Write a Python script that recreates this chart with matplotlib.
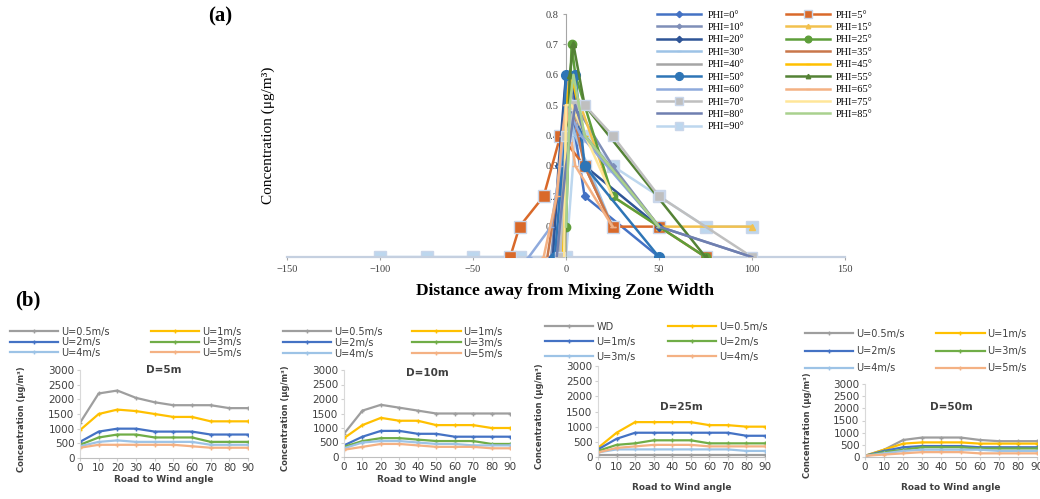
import matplotlib
matplotlib.use("Agg")
from matplotlib import pyplot as plt
import numpy as np

# ---- panel (a) data: distance (m) vs concentration (ug/m3) per road angle PHI
phi_angles = [0, 5, 10, 15, 20, 25, 30, 35, 40, 45, 50, 55, 60, 65, 70, 75, 80, 85, 90]
phi_dist = [
    [-5, 0, 10, 50],
    [-30, -25, -12, -3, 10, 25, 50, 75],
    [-8, -3, 0, 5, 25, 50, 100],
    [-3, 0, 2, 25, 50, 100],
    [-7, -4, 0, 3, 10, 50],
    [0, 3, 5, 25, 75],
    [-5, -2, 0, 5, 25],
    [-10, -5, 0, 3, 10, 25],
    [-4, 0, 2, 10, 50],
    [-2, 0, 3, 10, 50],
    [-6, -2, 0, 5, 10, 50],
    [-1, 2, 4, 10, 75],
    [-20, -8, -3, 0, 8, 50],
    [-12, -5, -2, 0, 5, 25],
    [-3, 0, 5, 10, 25, 50, 100],
    [-1, 0, 3, 25],
    [-5, 0, 5, 10, 50, 100],
    [0, 2, 4, 10, 50],
    [-100, -75, -50, -25, -5, 0, 5, 10, 25, 50, 75, 100],
]
phi_conc = [
    [0, 0.6, 0.2, 0],
    [0, 0.1, 0.2, 0.4, 0.3, 0.1, 0.1, 0],
    [0, 0.3, 0.6, 0.5, 0.3, 0.1, 0],
    [0, 0.5, 0.6, 0.2, 0.1, 0.1],
    [0, 0.3, 0.6, 0.6, 0.3, 0.1],
    [0.1, 0.7, 0.6, 0.2, 0],
    [0, 0.3, 0.5, 0.4, 0.1],
    [0, 0.2, 0.5, 0.5, 0.3, 0.1],
    [0, 0.4, 0.5, 0.4, 0.1],
    [0, 0.5, 0.6, 0.4, 0.1],
    [0, 0.3, 0.6, 0.6, 0.3, 0],
    [0, 0.6, 0.7, 0.5, 0],
    [0, 0.1, 0.3, 0.5, 0.4, 0.1],
    [0, 0.2, 0.4, 0.5, 0.3, 0.1],
    [0, 0.4, 0.5, 0.5, 0.4, 0.2, 0],
    [0, 0.5, 0.5, 0.2],
    [0, 0.3, 0.5, 0.4, 0.1, 0],
    [0.1, 0.5, 0.6, 0.4, 0.1],
    [0, 0, 0, 0, 0, 0, 0.4, 0.4, 0.3, 0.2, 0.1, 0.1],
]

# ---- panel (b) data: road-to-wind angle vs concentration
angles = [0, 10, 20, 30, 40, 50, 60, 70, 80, 90]
labels_u = ['U=0.5m/s', 'U=1m/s', 'U=2m/s', 'U=3m/s', 'U=4m/s', 'U=5m/s']
labels_25 = ['WD', 'U=0.5m/s', 'U=1m/s', 'U=2m/s', 'U=3m/s', 'U=4m/s']
d5 = [
    [1200, 2200, 2300, 2050, 1900, 1800, 1800, 1800, 1700, 1700],
    [950, 1500, 1650, 1600, 1500, 1400, 1400, 1250, 1250, 1250],
    [550, 900, 1000, 1000, 900, 900, 900, 800, 800, 800],
    [450, 700, 800, 800, 700, 700, 700, 550, 550, 550],
    [400, 550, 600, 550, 550, 550, 550, 450, 450, 450],
    [350, 450, 450, 450, 450, 450, 400, 350, 350, 350],
]
d10 = [
    [800, 1600, 1800, 1700, 1600, 1500, 1500, 1500, 1500, 1500],
    [650, 1100, 1350, 1250, 1250, 1100, 1100, 1100, 1000, 1000],
    [400, 700, 900, 900, 800, 800, 700, 700, 700, 700],
    [350, 550, 650, 650, 600, 550, 550, 550, 450, 450],
    [300, 500, 550, 550, 500, 450, 450, 400, 400, 400],
    [250, 350, 450, 450, 400, 350, 350, 350, 300, 300],
]
d25 = [
    [50, 50, 50, 50, 50, 50, 50, 50, 50, 50],
    [300, 800, 1150, 1150, 1150, 1150, 1050, 1050, 1000, 1000],
    [250, 600, 800, 800, 800, 800, 800, 800, 700, 700],
    [200, 400, 450, 550, 550, 550, 450, 450, 450, 450],
    [150, 250, 250, 250, 250, 250, 250, 250, 200, 200],
    [150, 300, 350, 400, 400, 400, 350, 350, 350, 350],
]
d50 = [
    [50, 300, 700, 800, 800, 800, 700, 650, 650, 650],
    [50, 300, 550, 600, 600, 600, 550, 550, 550, 550],
    [50, 250, 400, 450, 450, 450, 400, 400, 400, 400],
    [50, 200, 300, 400, 400, 400, 350, 350, 350, 350],
    [50, 150, 250, 300, 300, 300, 300, 250, 250, 250],
    [50, 100, 150, 200, 200, 200, 150, 150, 150, 150],
]

phi_colors = ['#4472C4', '#D9692A', '#7F8FB8', '#F2C14E', '#2F5597', '#5E9E3A',
              '#9DC3E6', '#C9774A', '#A5A5A5', '#FFC000', '#2E75B6', '#548235',
              '#8FAADC', '#F4B183', '#BFBFBF', '#FFE699', '#6F7FB0', '#A9D18E',
              '#BDD7EE']
phi_markers = ['D', 's', 'D', '^', 'D', 'o', '_', None, None, '_', 'o', '^',
               '_', '_', 's', None, None, None, 's']
phi_msize = [4, 8, 3, 4, 4, 6, 4, 0, 0, 4, 7, 4, 4, 4, 7, 0, 0, 0, 8]
u_colors = ['#9E9E9E', '#FFC000', '#4472C4', '#70AD47', '#9DC3E6', '#F4B183']

fig = plt.figure(figsize=(10.4, 4.99), dpi=100)

# ---------------- panel (a)
serif = 'Liberation Serif'
axa = fig.add_axes([287 / 1040, 1 - 257 / 499, 558 / 1040, 243 / 499])
handles = []
for i, ang in enumerate(phi_angles):
    m = phi_markers[i]
    line, = axa.plot(phi_dist[i], phi_conc[i], color=phi_colors[i], lw=1.8,
                     marker=m, markersize=phi_msize[i],
                     markerfacecolor=phi_colors[i],
                     markeredgecolor='#C9D6EA' if m == 's' else phi_colors[i],
                     label='PHI=%d°' % ang, zorder=3 if ang != 90 else 2)
    handles.append(line)
axa.set_xlim(-150, 150)
axa.set_ylim(0, 0.8)
axa.spines['left'].set_position(('data', 0))
axa.spines['bottom'].set_position(('data', 0))
axa.spines['top'].set_visible(False)
axa.spines['right'].set_visible(False)
axa.spines['left'].set_color('#A6A6A6')
axa.spines['bottom'].set_color('#C5D0E0')
axa.spines['bottom'].set_linewidth(1.6)
axa.set_yticks([0.1, 0.2, 0.3, 0.4, 0.5, 0.6, 0.7, 0.8])
axa.set_xticks([-150, -100, -50, 0, 50, 100, 150])
axa.tick_params(axis='both', length=2, color='#A6A6A6', labelsize=7.5,
                labelcolor='#404040')
for t in axa.get_xticklabels() + axa.get_yticklabels():
    t.set_fontfamily(serif)
axa.set_facecolor('none')

fig.text(268 / 1040, 1 - 135 / 499, 'Concentration (μg/m³)', rotation=90,
         ha='center', va='center', family=serif, fontsize=11)
fig.text(565 / 1040, 1 - 291 / 499, 'Distance away from Mixing Zone Width',
         ha='center', va='center', family=serif, fontsize=12.5,
         fontweight='bold')
fig.text(208 / 1040, 1 - 16 / 499, '(a)', ha='left', va='center',
         family=serif, fontsize=15, fontweight='bold')

order = [0, 2, 4, 6, 8, 10, 12, 14, 16, 18, 1, 3, 5, 7, 9, 11, 13, 15, 17]
fig.legend([handles[k] for k in order], [handles[k].get_label() for k in order],
           ncol=2, loc='upper left', bbox_to_anchor=(648 / 1040, 1 - 1 / 499),
           frameon=False, prop={'family': serif, 'size': 7.5},
           handlelength=4.2, labelspacing=0.3, columnspacing=4.0,
           handletextpad=0.6, markerscale=0.8)

# ---------------- panel (b)
fig.text(15 / 1040, 1 - 300 / 499, '(b)', ha='left', va='center',
         family=serif, fontsize=15, fontweight='bold')

# data, labels, title, axes box (px), title y, legend anchor, xlabel y, legend spacing, column spacing
panels = [
    (d5, labels_u, 'D=5m', [80, 458, 248, 370], 1.0, (3, 320), 479, 0.05, 4.2),
    (d10, labels_u, 'D=10m', [344, 457, 510, 370], 0.97, (276, 320), 479, 0.1, 3.0),
    (d25, labels_25, 'D=25m', [598, 457, 765, 366], 0.55, (538, 315), 487, 0.5, 3.3),
    (d50, labels_u, 'D=50m', [865, 457, 1037, 384], 0.68, (798, 322), 487, 0.75, 3.2),
]
for data, labs, title, box, ty, lpos, xly, lsp, csp in panels:
    x0, y0, x1, y1 = box
    ax = fig.add_axes([x0 / 1040, 1 - y0 / 499, (x1 - x0) / 1040, (y0 - y1) / 499])
    lines = []
    for j, vals in enumerate(data):
        ln, = ax.plot(angles, vals, color=u_colors[j], lw=1.6, marker='+',
                      markersize=3, label=labs[j])
        lines.append(ln)
    ax.set_xlim(0, 90)
    ax.set_ylim(0, 3000)
    ax.set_xticks(angles)
    ax.set_yticks([0, 500, 1000, 1500, 2000, 2500, 3000])
    for s in ['top', 'right']:
        ax.spines[s].set_visible(False)
    ax.spines['left'].set_color('#D9D9D9')
    ax.spines['bottom'].set_color('#BFBFBF')
    ax.tick_params(axis='both', length=2, color='#D0D0D0', labelsize=7.5,
                   labelcolor='#404040', pad=2)
    ax.tick_params(axis='x', pad=1.5)
    ax.text(0.5, ty, title, transform=ax.transAxes, ha='center', va='center',
            fontsize=7.5, fontweight='bold', color='#404040')
    ax.set_facecolor('none')
    fig.text(((x0 + x1) / 2) / 1040, 1 - xly / 499, 'Road to Wind angle',
             ha='center', va='center', fontsize=6.5, fontweight='bold',
             color='#404040')
    fig.text((x0 - 58) / 1040, 1 - ((y0 + y1) / 2 + 5) / 499,
             'Concentration (μg/m³)', rotation=90, ha='center', va='center',
             fontsize=6, fontweight='bold', color='#404040')
    lo = [0, 2, 4, 1, 3, 5]
    fig.legend([lines[k] for k in lo], [labs[k] for k in lo], ncol=2,
               loc='upper left',
               bbox_to_anchor=(lpos[0] / 1040, 1 - lpos[1] / 499),
               frameon=False, fontsize=7, handlelength=5, labelspacing=lsp,
               columnspacing=csp, handletextpad=0.3, borderpad=0.2,
               labelcolor='#404040')

fig.savefig('out.png', dpi=100)
